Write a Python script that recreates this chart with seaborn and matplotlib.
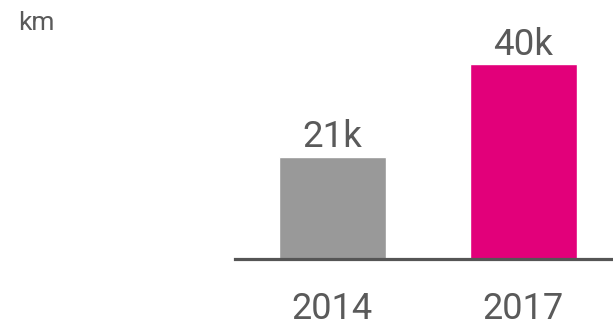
import matplotlib
matplotlib.use("Agg")
import matplotlib.pyplot as plt
import seaborn as sns
import pandas as pd

years = ["2014", "2017"]
distance_km = [21000, 40000]
value_labels = ["21k", "40k"]
bar_colors = ["#999999", "#E2007A"]

sns.set_style("white")
plt.rcParams["font.family"] = ["Roboto", "DejaVu Sans"]

df = pd.DataFrame({"year": years, "km": distance_km})

fig = plt.figure(figsize=(6.13, 3.25), dpi=100)
ax = fig.add_axes([235 / 613, 66 / 325, 378 / 613, 239 / 325])

sns.barplot(data=df, x="year", y="km", hue="year", palette=bar_colors,
            width=0.56, saturation=1, legend=False, ax=ax)

ax.set_xlim(-0.51, 1.469)
ax.set_ylim(0, 49070)

for patch, lab in zip(ax.patches, value_labels):
    ax.annotate(lab, (patch.get_x() + patch.get_width() / 2, patch.get_height()),
                xytext=(0, 1), textcoords="offset points", ha="center", va="bottom",
                fontsize=26.5, color="#5a5a5a", fontweight="normal")

for s in ["top", "left", "right"]:
    ax.spines[s].set_visible(False)
ax.spines["bottom"].set_color("#555555")
ax.spines["bottom"].set_linewidth(2.3)
ax.set_yticks([])
ax.tick_params(axis="x", length=0, pad=23, labelsize=26, labelcolor="#5a5a5a")
for t in ax.get_xticklabels():
    t.set_fontweight("normal")
ax.set_xlabel("")
ax.set_ylabel("")

fig.text(18 / 613, 1 - 23 / 325, "km", fontsize=19, color="#5a5a5a",
         ha="left", va="center", fontweight="normal")

fig.savefig("out.png", dpi=100)
